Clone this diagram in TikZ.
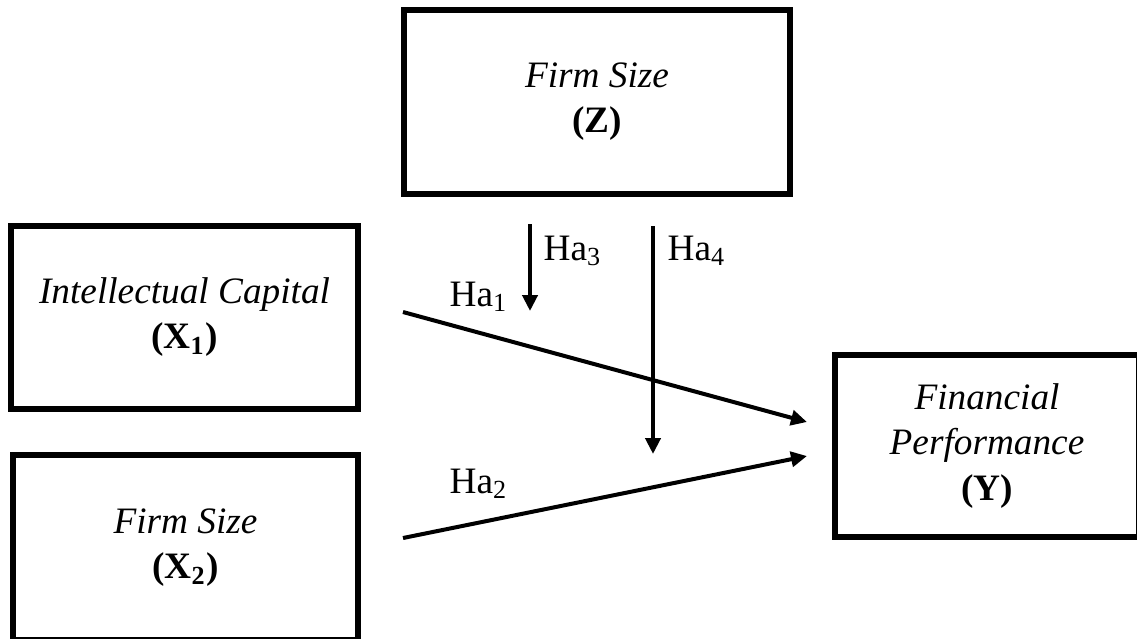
\documentclass[tikz,border=0pt]{standalone}
\usepackage{fontspec}
\setmainfont{Liberation Serif}
\usepackage{tikz}
\usetikzlibrary{positioning,arrows.meta}

\tikzset{
	varbox/.style={draw, line width=0.055cm, align=center, inner sep=0pt, font=\fontsize{10.6}{12.8}\selectfont},
	hyparrow/.style={line width=0.04cm, -{Triangle[length=0.16cm,width=0.15cm]}},
	hyplabel/.style={anchor=base west, inner sep=0pt, font=\fontsize{10.6}{12.8}\selectfont}
}

\begin{document}
\begin{tikzpicture}[x=0.01cm, y=-0.01cm]
	\clip (0,0) rectangle (1137,638);
	\fill[white] (0,0) rectangle (1137,638);
	% variables
	\node[varbox, minimum width=3.86cm, minimum height=1.84cm] (Z) at (597,102) {\textit{Firm Size}\\\textbf{(Z)}};
	\node[varbox, minimum width=3.47cm, minimum height=1.83cm] (X1) at (184.5,317.5) {\textit{Intellectual Capital}\\\textbf{(X\textsubscript{1})}};
	\node[varbox, minimum width=3.45cm, minimum height=1.85cm] (X2) at (185.5,547.5) {\textit{Firm Size}\\\textbf{(X\textsubscript{2})}};
	\node[varbox, minimum width=3.04cm, minimum height=1.82cm] (Y) at (987,446) {\textit{Financial}\\\textit{Performance}\\\textbf{(Y)}};
	% arrow ends
	\coordinate (a1s) at (403,312);
	\coordinate (a1e) at (807,422);
	\coordinate (a2s) at (403,538);
	\coordinate (a2e) at (807,456);
	\coordinate (m1s) at (530,224);
	\coordinate (m1e) at (530,311);
	\coordinate (m2s) at (653,226);
	\coordinate (m2e) at (653,454);
	\draw[hyparrow] (a1s) -- (a1e);
	\draw[hyparrow] (a2s) -- (a2e);
	\draw[hyparrow] (m1s) -- (m1e);
	\draw[hyparrow] (m2s) -- (m2e);
	% hypotheses
	\node[hyplabel] (h1) at (449,306) {Ha\textsubscript{1}};
	\node[hyplabel] (h2) at (449,493) {Ha\textsubscript{2}};
	\node[hyplabel] (h3) at (543,260) {Ha\textsubscript{3}};
	\node[hyplabel] (h4) at (667,260) {Ha\textsubscript{4}};
\end{tikzpicture}
\end{document}
